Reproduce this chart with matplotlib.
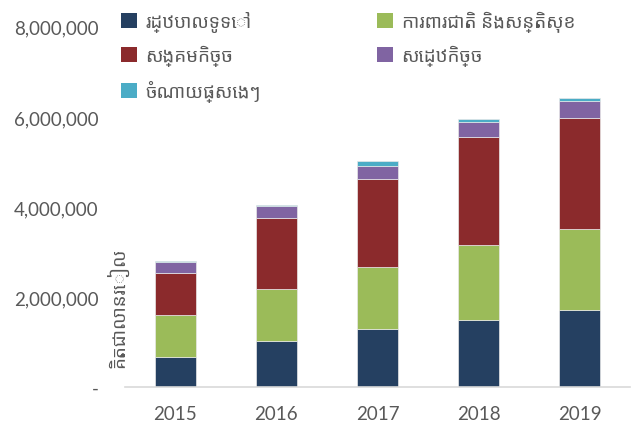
import matplotlib
matplotlib.use("Agg")
import matplotlib.pyplot as plt
from matplotlib.ticker import FuncFormatter
from matplotlib.patches import Patch
import numpy as np

# ---------------- DATA (millions of riel) ----------------
years = ["2015", "2016", "2017", "2018", "2019"]
series_names = ["រដ្ឋបាលទូទៅ", "ការពារជាតិ និងសន្តិសុខ", "សង្គមកិច្ច", "សេដ្ឋកិច្ច", "ចំណាយផ្សេងៗ"]
admin = [670000, 1020000, 1290000, 1490000, 1710000]
defence = [920000, 1160000, 1370000, 1670000, 1800000]
social = [950000, 1580000, 1950000, 2400000, 2470000]
economic = [230000, 260000, 290000, 330000, 380000]
other = [30000, 30000, 110000, 70000, 60000]
colors = ["#254061", "#9BBB59", "#8B2A2C", "#8064A2", "#4BACC6"]
y_label = "គិតជាលានរៀល"

# Khmer text needs a Khmer font, numbers use Lato
khmer_family = ["Noto Sans Khmer", "Lato", "DejaVu Sans"]
plt.rcParams["font.family"] = ["Lato", "DejaVu Sans"]
grey = "#595959"

fig = plt.figure(figsize=(6.37, 4.35), dpi=100)
ax = fig.add_axes([0.196, 0.108, 0.793, 0.828])

x = np.arange(len(years))
bottom = np.zeros(len(years))
for vals, name, c in zip([admin, defence, social, economic, other], series_names, colors):
    ax.bar(x, vals, width=0.4, bottom=bottom, color=c, edgecolor="#e8e8e8", linewidth=0.5, label=name)
    bottom += np.array(vals)

ax.set_xlim(-0.5, 4.5)
ax.set_ylim(0, 8000000)
ax.set_yticks(np.arange(0, 8000001, 2000000))
ax.yaxis.set_major_formatter(FuncFormatter(lambda v, p: "-" if v == 0 else f"{int(v):,}"))
ax.set_xticks(x)
ax.set_xticklabels(years)
ax.tick_params(axis="both", length=0, labelsize=13.5, colors=grey)
ax.tick_params(axis="x", pad=13)
ax.tick_params(axis="y", pad=19)
for s in ["top", "right", "left"]:
    ax.spines[s].set_visible(False)
ax.spines["bottom"].set_color("#D9D9D9")
ax.spines["bottom"].set_linewidth(1.2)

# legend: 2 columns, filled column-wise like Excel rows
handles = [Patch(facecolor=c, label=n) for c, n in zip(colors, series_names)]
order = [0, 2, 4, 1, 3]
fig.legend([handles[i] for i in order], [series_names[i] for i in order], ncol=2,
           loc="upper left", bbox_to_anchor=(121 / 637, 1 - 12 / 435), frameon=False,
           prop={"family": khmer_family, "size": 13.5}, labelcolor=grey,
           handlelength=0.85, handleheight=0.85, handletextpad=0.45,
           columnspacing=6.2, labelspacing=0.7, borderpad=0, borderaxespad=0)

fig.text(0.184, 1 - 308 / 435, y_label, rotation=90, ha="center", va="center",
         fontsize=13.5, color=grey, family=khmer_family)

fig.savefig("out.png", dpi=100)
